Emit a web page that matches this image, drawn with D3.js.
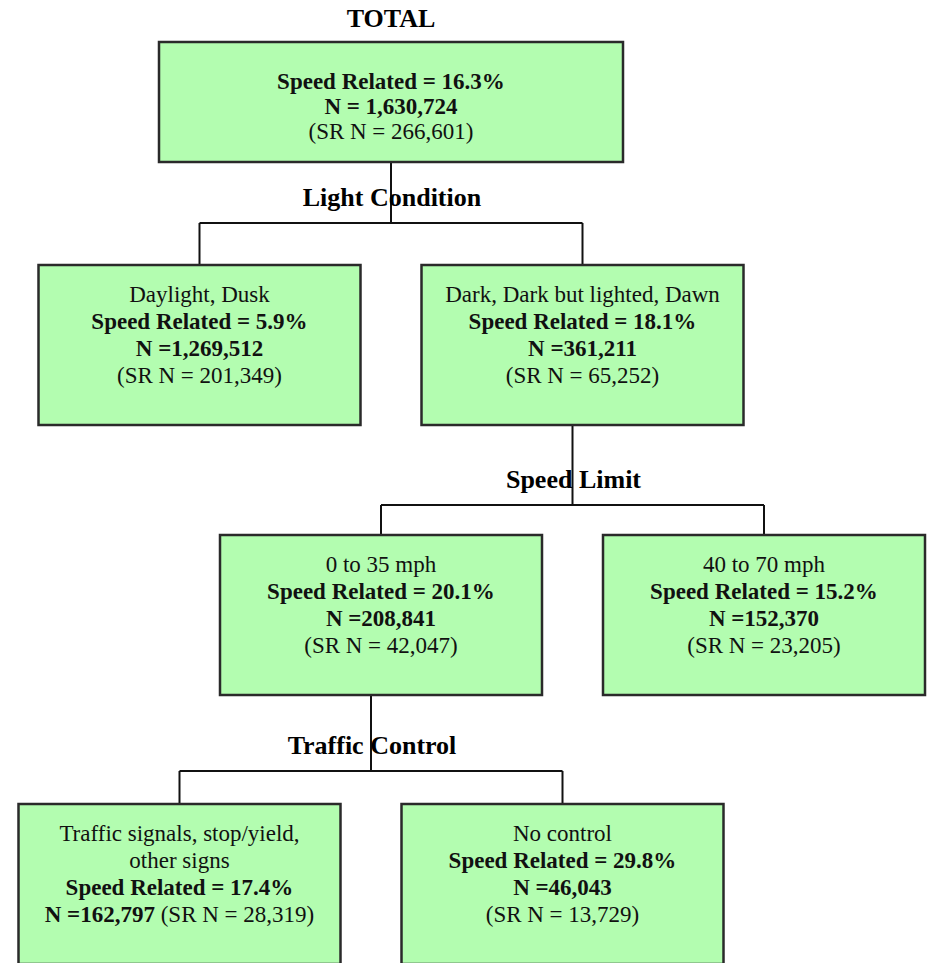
<!DOCTYPE html>
<html>
<head>
<meta charset="utf-8">
<script src="https://cdn.jsdelivr.net/npm/d3@7"></script>
<style>
body { margin: 0; background: #fff; }
svg { display: block; font-family: "Liberation Serif", "Times New Roman", serif; }
</style>
</head>
<body>
<svg class="chart"></svg>
<script>
// tree structure + values
var nodeIds = ["total", "daylight", "dark", "low", "high", "signals", "nocontrol"];
var parentIds = [null, "total", "total", "dark", "dark", "low", "low"];
var categories = ["TOTAL", "Daylight, Dusk", "Dark, Dark but lighted, Dawn",
                  "0 to 35 mph", "40 to 70 mph",
                  "Traffic signals, stop/yield, other signs", "No control"];
var speedRelated = [16.3, 5.9, 18.1, 20.1, 15.2, 17.4, 29.8];
var crashN = [1630724, 1269512, 361211, 208841, 152370, 162797, 46043];
var srN = [266601, 201349, 65252, 42047, 23205, 28319, 13729];
var splitLabels = ["Light Condition", "Speed Limit", "Traffic Control"];

var width = 930, height = 963;
var fill = "#b3fdb0", stroke = "#2a2a2a";
var fmt = d3.format(","), pct = d3.format(".1f");

var svg = d3.select(".chart")
    .attr("width", width)
    .attr("height", height);

var rows = nodeIds.map(function(id, i) {
    return {id: id, parent: parentIds[i], name: categories[i],
            sr: speedRelated[i], n: crashN[i], srn: srN[i]};
});

var root = d3.stratify()
    .id(function(d) { return d.id; })
    .parentId(function(d) { return d.parent; })(rows);

d3.tree().nodeSize([383, 1])(root);

// every split below the first sits a little left of its box centre
var stemShift = -10;
var x = d3.scaleLinear().domain([-383, 383]).range([391 - 383, 391 + 383]);
var boxTop = d3.scaleOrdinal().domain([0, 1, 2, 3]).range([42, 265, 535, 804]);
var busY = d3.scaleOrdinal().domain([1, 2, 3]).range([223, 505, 771]);

function cx(d) { return x(d.x) + stemShift * Math.max(0, d.depth - 1); }
function stemX(d) { return cx(d) + (d.depth > 0 ? stemShift : 0); }
function boxW(d) { return d.depth === 0 ? 464 : 322; }
function boxH(d) { return d.depth === 0 ? 120 : 160; }

// connectors
var links = svg.append("g").attr("class", "links")
    .attr("stroke", "#111").attr("stroke-width", 2).attr("fill", "none");

var parents = root.descendants().filter(function(d) { return d.children; });

parents.forEach(function(p, i) {
    var sx = stemX(p), by = busY(p.depth + 1);
    var xs = p.children.map(cx);
    links.append("line")
        .attr("x1", sx).attr("x2", sx)
        .attr("y1", boxTop(p.depth) + boxH(p)).attr("y2", by);
    links.append("line")
        .attr("x1", d3.min(xs)).attr("x2", d3.max(xs))
        .attr("y1", by).attr("y2", by);
    p.children.forEach(function(c) {
        links.append("line")
            .attr("x1", cx(c)).attr("x2", cx(c))
            .attr("y1", by).attr("y2", boxTop(c.depth));
    });
    svg.append("text")
        .attr("x", sx + 1)
        .attr("y", by - 17)
        .attr("text-anchor", "middle")
        .attr("font-size", 26)
        .attr("font-weight", "bold")
        .text(splitLabels[i]);
});

// boxes
var nodes = svg.selectAll("g.node")
    .data(root.descendants())
    .enter()
    .append("g")
    .attr("class", "node");

nodes.append("rect")
    .attr("x", function(d) { return cx(d) - boxW(d) / 2; })
    .attr("y", function(d) { return boxTop(d.depth); })
    .attr("width", boxW)
    .attr("height", boxH)
    .attr("fill", fill)
    .attr("stroke", stroke)
    .attr("stroke-width", 2.5);

// wrap a category name to fit inside a box
var probe = svg.append("text").attr("font-size", 23);
function wrap(str, maxW) {
    var words = str.split(" "), out = [], line = [];
    words.forEach(function(w) {
        line.push(w);
        probe.text(line.join(" "));
        if (probe.node().getComputedTextLength() > maxW && line.length > 1) {
            line.pop();
            out.push(line.join(" "));
            line = [w];
        }
    });
    out.push(line.join(" "));
    return out;
}

function textLines(d) {
    var v = d.data, lines = [];
    if (d.depth === 0) {
        lines.push([{t: "Speed Related = " + pct(v.sr) + "%", b: true}]);
        lines.push([{t: "N = " + fmt(v.n), b: true}]);
        lines.push([{t: "(SR N = " + fmt(v.srn) + ")", b: false}]);
        return lines;
    }
    var cat = wrap(v.name, 282);
    cat.forEach(function(c) { lines.push([{t: c, b: false}]); });
    lines.push([{t: "Speed Related = " + pct(v.sr) + "%", b: true}]);
    if (cat.length > 1) {
        lines.push([{t: "N =" + fmt(v.n), b: true}, {t: " (SR N = " + fmt(v.srn) + ")", b: false}]);
    } else {
        lines.push([{t: "N =" + fmt(v.n), b: true}]);
        lines.push([{t: "(SR N = " + fmt(v.srn) + ")", b: false}]);
    }
    return lines;
}

nodes.each(function(d) {
    var g = d3.select(this);
    var top = boxTop(d.depth);
    var first = d.depth === 0 ? top + 47 : top + 37;
    var step = d.depth === 0 ? 25 : 27;
    textLines(d).forEach(function(parts, i) {
        var t = g.append("text")
            .attr("x", cx(d))
            .attr("y", first + i * step)
            .attr("text-anchor", "middle")
            .attr("font-size", 23)
            .attr("fill", "#111");
        parts.forEach(function(p) {
            t.append("tspan")
                .attr("font-weight", p.b ? "bold" : "normal")
                .text(p.t);
        });
    });
});
probe.remove();

// title above the root box
svg.append("text")
    .attr("x", cx(root))
    .attr("y", boxTop(0) - 15)
    .attr("text-anchor", "middle")
    .attr("font-size", 26)
    .attr("font-weight", "bold")
    .text(root.data.name);
</script>
</body>
</html>
